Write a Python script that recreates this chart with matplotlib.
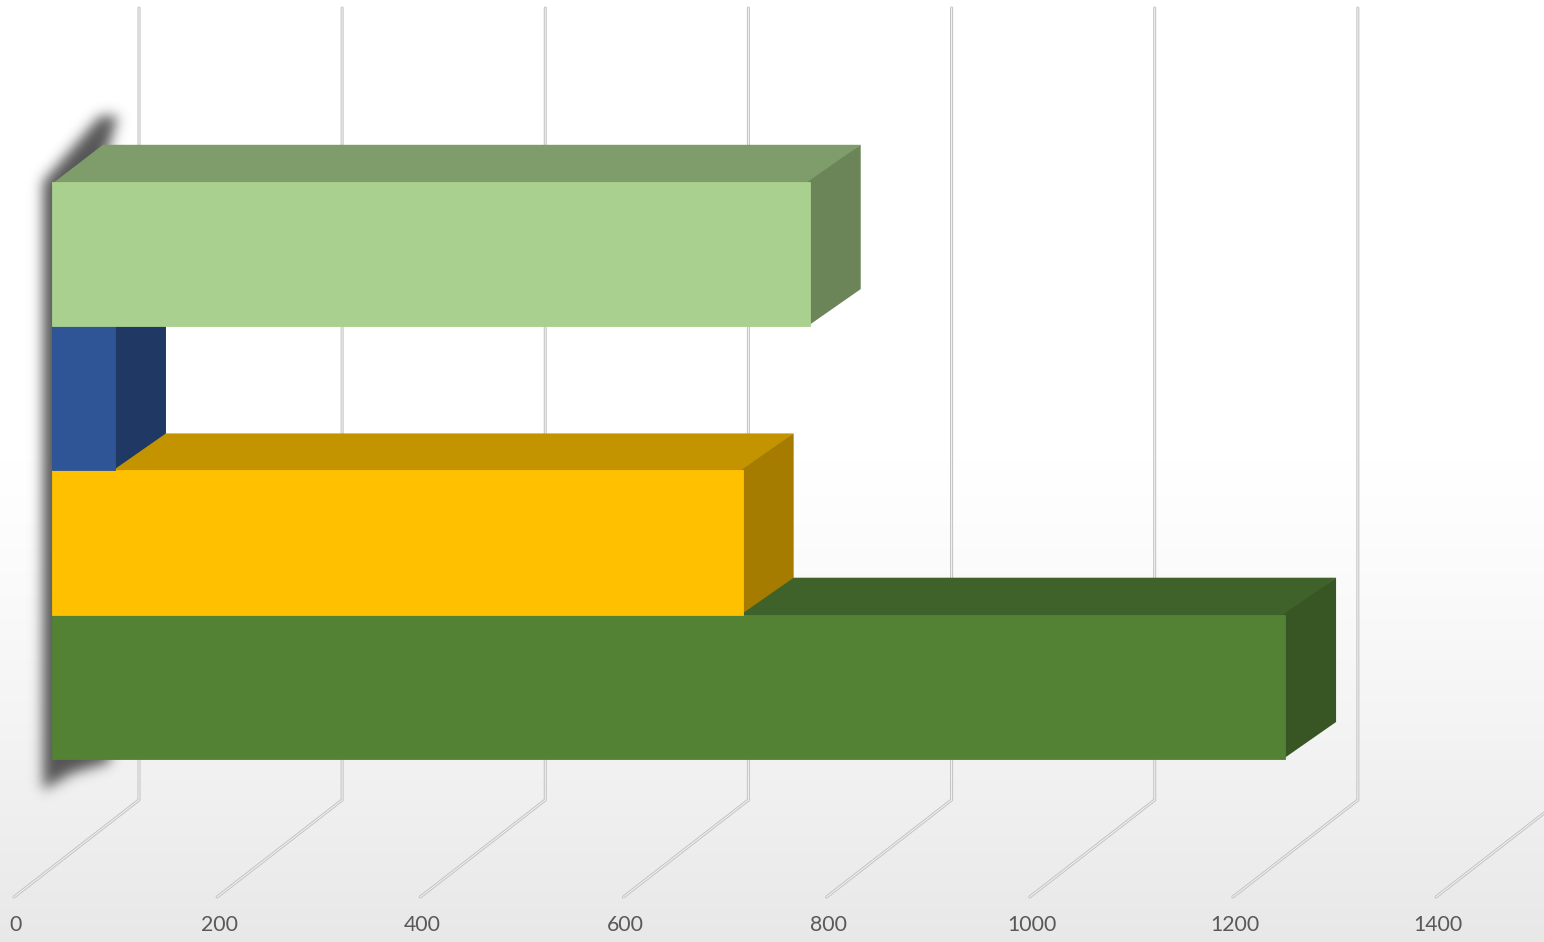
import numpy as np
import matplotlib
matplotlib.use("Agg")
import matplotlib.pyplot as plt
from matplotlib.patches import Polygon
from matplotlib.path import Path

# data, bottom bar first
values = [1214, 680, 62, 746]
front_colors = ['#548235', '#FFC000', '#2F5597', '#A9D08E']
top_colors = ['#3F622A', '#C49400', '#223F70', '#7F9C6B']
side_colors = ['#375623', '#A67C00', '#203864', '#6B8559']
tick_values = [0, 200, 400, 600, 800, 1000, 1200, 1400]

W, H = 1544, 942
K = 1.0157          # pixels per value unit
X0 = 14             # pixel of value 0 on the front floor edge
FLOOR_Y = 897
WALL_Y = 800
TOP_Y = 8
FLOOR_DX = 125 / K
FLOOR_DY = -97
BAR_X = 38 / K      # front face of bars, measured from floor front
BAR_DX = 51 / K
BAR_DY = -37
BAND = 144.3
BAND_BOTTOM = 759

fig = plt.figure(figsize=(W / 100, H / 100), dpi=100)
ax = fig.add_axes([0, 0, 1, 1])
xmin, xmax = -X0 / K, (W - X0) / K
ax.set_xlim(xmin, xmax)
ax.set_ylim(H, 0)
ax.axis('off')

# background gradient
g = np.ones((H, 1))
yy = np.arange(H)
g[:, 0] = np.where(yy < 460, 1.0, 1.0 - 0.09 * ((yy - 460) / (H - 460)) ** 1.2)
bg = np.dstack([g, g, g])
ax.imshow(bg, extent=(xmin, xmax, H, 0), aspect='auto', zorder=0)

# gridlines: floor diagonal + back wall vertical
for v in tick_values:
    xs = [v, v + FLOOR_DX, v + FLOOR_DX]
    ys = [FLOOR_Y, FLOOR_Y + FLOOR_DY, TOP_Y]
    ax.plot(xs, ys, color='#C4C4C4', lw=2.2, zorder=1, solid_capstyle='round')
    ax.plot(xs, ys, color='#F4F4F4', lw=0.7, zorder=1.1)
    ax.text(v + 2 / K, 925, str(v), ha='center', va='center', fontsize=15.3,
            family='Lato', color='#595959')

# shadow behind left side of the bars (blurred mask)
sx0, sx1, sy0, sy1 = 0, 240, 50, 860
gx, gy = np.meshgrid(np.arange(sx0, sx1) + 0.5, np.arange(sy0, sy1) + 0.5)
shape = Path([(43, 790), (43, 182), (100, 116), (118, 116), (100, 175),
              (110, 762), (72, 773)])
mask = shape.contains_points(np.c_[gx.ravel(), gy.ravel()]).reshape(gx.shape).astype(float)
sig = 6.5
kx = np.arange(-20, 21)
kern = np.exp(-kx ** 2 / (2 * sig ** 2))
kern /= kern.sum()
mask = np.apply_along_axis(lambda r: np.convolve(r, kern, mode='same'), 1, mask)
mask = np.apply_along_axis(lambda c: np.convolve(c, kern, mode='same'), 0, mask)
shadow = np.zeros(mask.shape + (4,))
shadow[..., :3] = 0.3
shadow[..., 3] = np.clip(mask * 0.95, 0, 1)
ax.imshow(shadow, extent=((sx0 - X0) / K, (sx1 - X0) / K, sy1, sy0),
          aspect='auto', zorder=2, interpolation='bilinear')

# bars, bottom to top so each front face hides the top face below it
for i, v in enumerate(values):
    ybot = BAND_BOTTOM - BAND * i
    ytop = ybot - BAND
    x0 = BAR_X
    x1 = BAR_X + v
    # top and side run 2 px under the front face to avoid a seam
    top = Polygon([(x0, ytop + 2), (x1, ytop + 2), (x1 + BAR_DX, ytop + BAR_DY),
                   (x0 + BAR_DX, ytop + BAR_DY)], closed=True,
                  facecolor=top_colors[i], edgecolor='none', zorder=3)
    side = Polygon([(x1 - 2, ytop), (x1 + BAR_DX, ytop + BAR_DY),
                    (x1 + BAR_DX, ybot + BAR_DY), (x1 - 2, ybot)], closed=True,
                   facecolor=side_colors[i], edgecolor='none', zorder=3)
    front = Polygon([(x0, ybot), (x0, ytop), (x1, ytop), (x1, ybot)], closed=True,
                    facecolor=front_colors[i], edgecolor=front_colors[i],
                    lw=0.6, zorder=3)
    ax.add_patch(top)
    ax.add_patch(side)
    ax.add_patch(front)

fig.savefig('out.png', dpi=100)
